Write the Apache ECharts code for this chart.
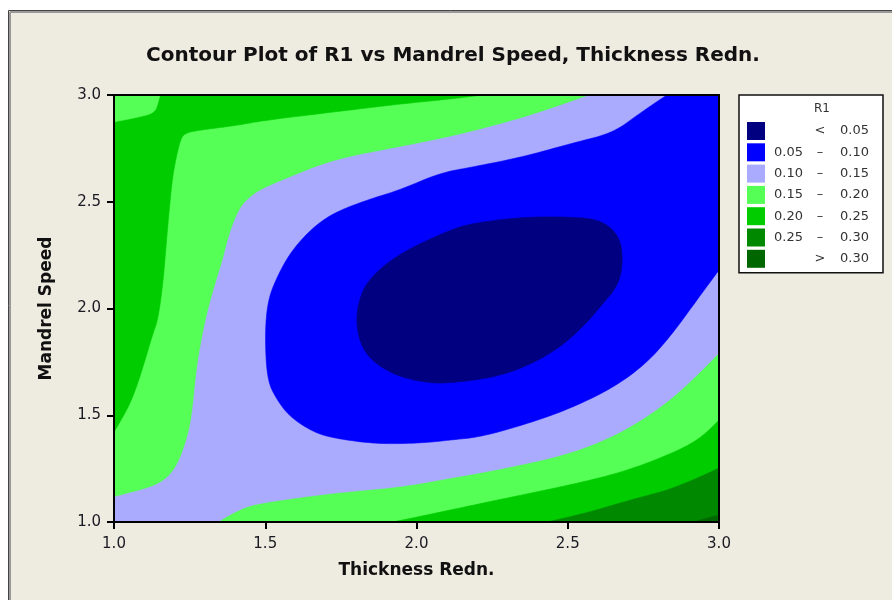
<!DOCTYPE html>
<html><head><meta charset="utf-8">
<script src="https://cdn.jsdelivr.net/npm/echarts@6/dist/echarts.min.js"></script>
<style>html,body{margin:0;padding:0;background:#fff}#c{width:892px;height:600px}</style>
</head><body><div id="c"></div>
<script>
// ---- axis ticks ----
const xTicks = [1.0, 1.5, 2.0, 2.5, 3.0];
const yTicks = [1.0, 1.5, 2.0, 2.5, 3.0];

// ---- contour levels (legend) ----
const levelNames = ['< 0.05', '0.05 – 0.10', '0.10 – 0.15', '0.15 – 0.20', '0.20 – 0.25', '0.25 – 0.30', '> 0.30'];
const levelLow  = ['', '0.05', '0.10', '0.15', '0.20', '0.25', ''];
const levelSep  = ['<', '–', '–', '–', '–', '–', '>'];
const levelHigh = ['0.05', '0.10', '0.15', '0.20', '0.25', '0.30', '0.30'];
const levelColors = ['#000080', '#0000FF', '#AAAAFF', '#55FF55', '#00CC00', '#008800', '#006600'];

// ---- contour regions, [Thickness Redn., Mandrel Speed] ----
const wholePlot = [[1, 1], [3, 1], [3, 3], [1, 3]];                       // 0.15 - 0.20 background
const greenTopLeft = [[1, 3], [2.220, 3], [2.111, 2.981], [1.945, 2.958], [1.724, 2.920], [1.506, 2.883],
  [1.393, 2.855], [1.284, 2.836], [1.235, 2.822], [1.218, 2.789], [1.195, 2.635], [1.185, 2.499],
  [1.175, 2.344], [1.162, 2.119], [1.145, 1.946], [1.129, 1.885], [1.096, 1.726], [1.063, 1.585],
  [1.030, 1.492], [1, 1.422]];                                             // 0.20 - 0.25
const lightCornerTopLeft = [[1, 3], [1.152, 3], [1.145, 2.96], [1.135, 2.92], [1.096, 2.90], [1, 2.874]]; // 0.15 - 0.20
const greenBottomRight = [[1.922, 1], [2.002, 1.023], [2.111, 1.056], [2.299, 1.112], [2.540, 1.183],
  [2.706, 1.244], [2.871, 1.337], [2.954, 1.407], [3, 1.478], [3, 1]];     // 0.20 - 0.25
const darkGreenBottomRight = [[2.431, 1], [2.540, 1.033], [2.706, 1.103], [2.871, 1.164], [3, 1.253], [3, 1]]; // 0.25 - 0.30
const darkestCorner = [[2.914, 1], [3, 1.033], [3, 1]];                    // > 0.30
const lavenderBand = [[1, 1.117], [1.096, 1.150], [1.162, 1.187], [1.208, 1.258], [1.241, 1.384],
  [1.258, 1.492], [1.274, 1.726], [1.294, 1.885], [1.311, 1.993], [1.334, 2.110], [1.360, 2.227],
  [1.383, 2.358], [1.417, 2.475], [1.450, 2.522], [1.483, 2.555], [1.559, 2.602], [1.724, 2.696],
  [1.945, 2.756], [2.111, 2.803], [2.243, 2.850], [2.408, 2.916], [2.574, 3], [3, 3], [3, 1.792],
  [2.936, 1.698], [2.828, 1.557], [2.683, 1.422], [2.517, 1.323], [2.299, 1.253], [2.078, 1.197],
  [1.945, 1.164], [1.724, 1.136], [1.506, 1.094], [1.417, 1.066], [1.344, 1], [1, 1]]; // 0.10 - 0.15
const blueRegion = [[2.828, 3], [2.739, 2.916], [2.650, 2.822], [2.517, 2.775], [2.352, 2.710],
  [2.187, 2.663], [2.078, 2.635], [1.945, 2.555], [1.836, 2.508], [1.724, 2.447], [1.648, 2.368],
  [1.582, 2.260], [1.539, 2.148], [1.509, 2.040], [1.499, 1.885], [1.506, 1.665], [1.539, 1.571],
  [1.582, 1.492], [1.658, 1.422], [1.724, 1.393], [1.869, 1.365], [2.021, 1.370], [2.111, 1.384],
  [2.210, 1.398], [2.352, 1.454], [2.498, 1.525], [2.650, 1.628], [2.762, 1.745], [2.848, 1.885],
  [2.927, 2.040], [3, 2.180], [3, 3]];                                     // 0.05 - 0.10
const navyCore = [[2.111, 2.368], [1.945, 2.260], [1.836, 2.133], [1.803, 2.007], [1.803, 1.885],
  [1.836, 1.773], [1.922, 1.689], [2.035, 1.651], [2.111, 1.651], [2.243, 1.674], [2.352, 1.721],
  [2.464, 1.806], [2.550, 1.913], [2.607, 2.007], [2.673, 2.119], [2.683, 2.260], [2.663, 2.354],
  [2.607, 2.415], [2.517, 2.429], [2.352, 2.429], [2.187, 2.400]];         // < 0.05

const FONT = 'DejaVu Sans';

function onBorder(p) { return p[0] <= 1 || p[0] >= 3 || p[1] <= 1 || p[1] >= 3; }
function mid(a, b) { return [(a[0] + b[0]) / 2, (a[1] + b[1]) / 2]; }

// draws the outline through the library's coordinate mapping; interior boundary drawn as a smooth curve
function outline(pts, api) {
  const n = pts.length;
  const P = pts.map(function (p) { return api.coord(p); });
  const out = [];
  for (let i = 0; i < n; i++) {
    if (onBorder(pts[i])) { out.push(P[i]); continue; }
    const ip = (i - 1 + n) % n, inx = (i + 1) % n;
    const a = onBorder(pts[ip]) ? P[ip] : mid(P[ip], P[i]);
    const b = onBorder(pts[inx]) ? P[inx] : mid(P[i], P[inx]);
    const c = P[i];
    for (let k = 0; k <= 10; k++) {
      const t = k / 10, u = 1 - t;
      out.push([u * u * a[0] + 2 * u * t * c[0] + t * t * b[0], u * u * a[1] + 2 * u * t * c[1] + t * t * b[1]]);
    }
  }
  return out;
}

function regionSeries(levelIndex, pts) {
  const color = levelColors[levelIndex];
  return {
    type: 'custom',
    name: levelNames[levelIndex],
    coordinateSystem: 'cartesian2d',
    data: pts,
    encode: { x: 0, y: 1 },
    silent: true,
    itemStyle: { color: color },
    renderItem: function (params, api) {
      if (params.dataIndex !== 0) return null;
      return { type: 'polygon', shape: { points: outline(pts, api) }, style: { fill: color, stroke: color, lineWidth: 0.6 } };
    }
  };
}

const chart = echarts.init(document.getElementById('c'), null, { renderer: 'canvas' });

const axisCommon = {
  type: 'value', min: 1, max: 3, interval: 0.5, z: 10,
  splitLine: { show: false },
  axisLine: { show: true, onZero: false, lineStyle: { color: '#000', width: 2 } }
};

chart.setOption({
  backgroundColor: '#EEEBE1',
  animation: false,
  title: [
    { text: 'Contour Plot of R1 vs Mandrel Speed, Thickness Redn.', left: 146, top: 46, padding: 0,
      textStyle: { fontFamily: FONT, fontSize: 20, fontWeight: 'bold', color: '#111' } },
    { text: 'R1', left: 814, top: 103, padding: 0,
      textStyle: { fontFamily: FONT, fontSize: 12, fontWeight: 'normal', color: '#333' } }
  ],
  grid: { left: 114, right: 173, top: 95, bottom: 78 },
  xAxis: [
    Object.assign({}, axisCommon, {
      position: 'bottom',
      axisTick: { show: true, length: 7, lineStyle: { color: '#000', width: 2 } },
      axisLabel: { formatter: function (v) { return v.toFixed(1); }, margin: 15, fontFamily: FONT, fontSize: 15, color: '#1a1a22' },
      name: 'Thickness Redn.', nameLocation: 'middle', nameGap: 40,
      nameTextStyle: { fontFamily: FONT, fontSize: 17, fontWeight: 'bold', color: '#111' }
    }),
    Object.assign({}, axisCommon, { position: 'top', axisTick: { show: false }, axisLabel: { show: false } })
  ],
  yAxis: [
    Object.assign({}, axisCommon, {
      position: 'left',
      axisTick: { show: true, length: 7, lineStyle: { color: '#000', width: 2 } },
      axisLabel: { formatter: function (v) { return v.toFixed(1); }, margin: 13, fontFamily: FONT, fontSize: 15, color: '#1a1a22' },
      name: 'Mandrel Speed', nameLocation: 'middle', nameGap: 59,
      nameTextStyle: { fontFamily: FONT, fontSize: 17, fontWeight: 'bold', color: '#111' }
    }),
    Object.assign({}, axisCommon, { position: 'right', axisTick: { show: false }, axisLabel: { show: false } })
  ],
  legend: {
    data: levelNames,
    orient: 'vertical', left: 739, top: 95,
    padding: [27, 14, 5, 8],
    itemWidth: 18, itemHeight: 18, itemGap: 3.3,
    icon: 'rect', selectedMode: false,
    backgroundColor: '#fff', borderColor: '#111', borderWidth: 1.5, borderRadius: 0,
    formatter: function (name) {
      const i = levelNames.indexOf(name);
      return '{lo|' + (levelLow[i] || ' ') + '}{sep|' + levelSep[i] + '}{hi|' + levelHigh[i] + '}';
    },
    textStyle: {
      fontFamily: FONT, fontSize: 13, color: '#333',
      rich: {
        lo: { width: 37, align: 'right', fontFamily: FONT, fontSize: 13, color: '#333' },
        sep: { width: 26, align: 'center', fontFamily: FONT, fontSize: 13, color: '#333' },
        hi: { width: 36, align: 'right', fontFamily: FONT, fontSize: 13, color: '#333' }
      }
    }
  },
  graphic: [
    { type: 'rect', shape: { x: 0, y: 0, width: 892, height: 10 }, style: { fill: '#fff' }, silent: true },
    { type: 'rect', shape: { x: 0, y: 0, width: 8, height: 600 }, style: { fill: '#fff' }, silent: true },
    { type: 'line', shape: { x1: 8.5, y1: 10.5, x2: 892, y2: 10.5 }, style: { stroke: '#444', lineWidth: 1 }, silent: true },
    { type: 'line', shape: { x1: 8.5, y1: 10.5, x2: 8.5, y2: 600 }, style: { stroke: '#444', lineWidth: 1 }, silent: true },
    { type: 'line', shape: { x1: 10, y1: 12, x2: 892, y2: 12 }, style: { stroke: '#9a9a9a', lineWidth: 2 }, silent: true },
    { type: 'line', shape: { x1: 10, y1: 12, x2: 10, y2: 600 }, style: { stroke: '#9a9a9a', lineWidth: 2 }, silent: true }
  ],
  series: [
    regionSeries(3, wholePlot),
    regionSeries(4, greenTopLeft),
    regionSeries(3, lightCornerTopLeft),
    regionSeries(4, greenBottomRight),
    regionSeries(5, darkGreenBottomRight),
    regionSeries(6, darkestCorner),
    regionSeries(2, lavenderBand),
    regionSeries(1, blueRegion),
    regionSeries(0, navyCore)
  ]
});
</script></body></html>
